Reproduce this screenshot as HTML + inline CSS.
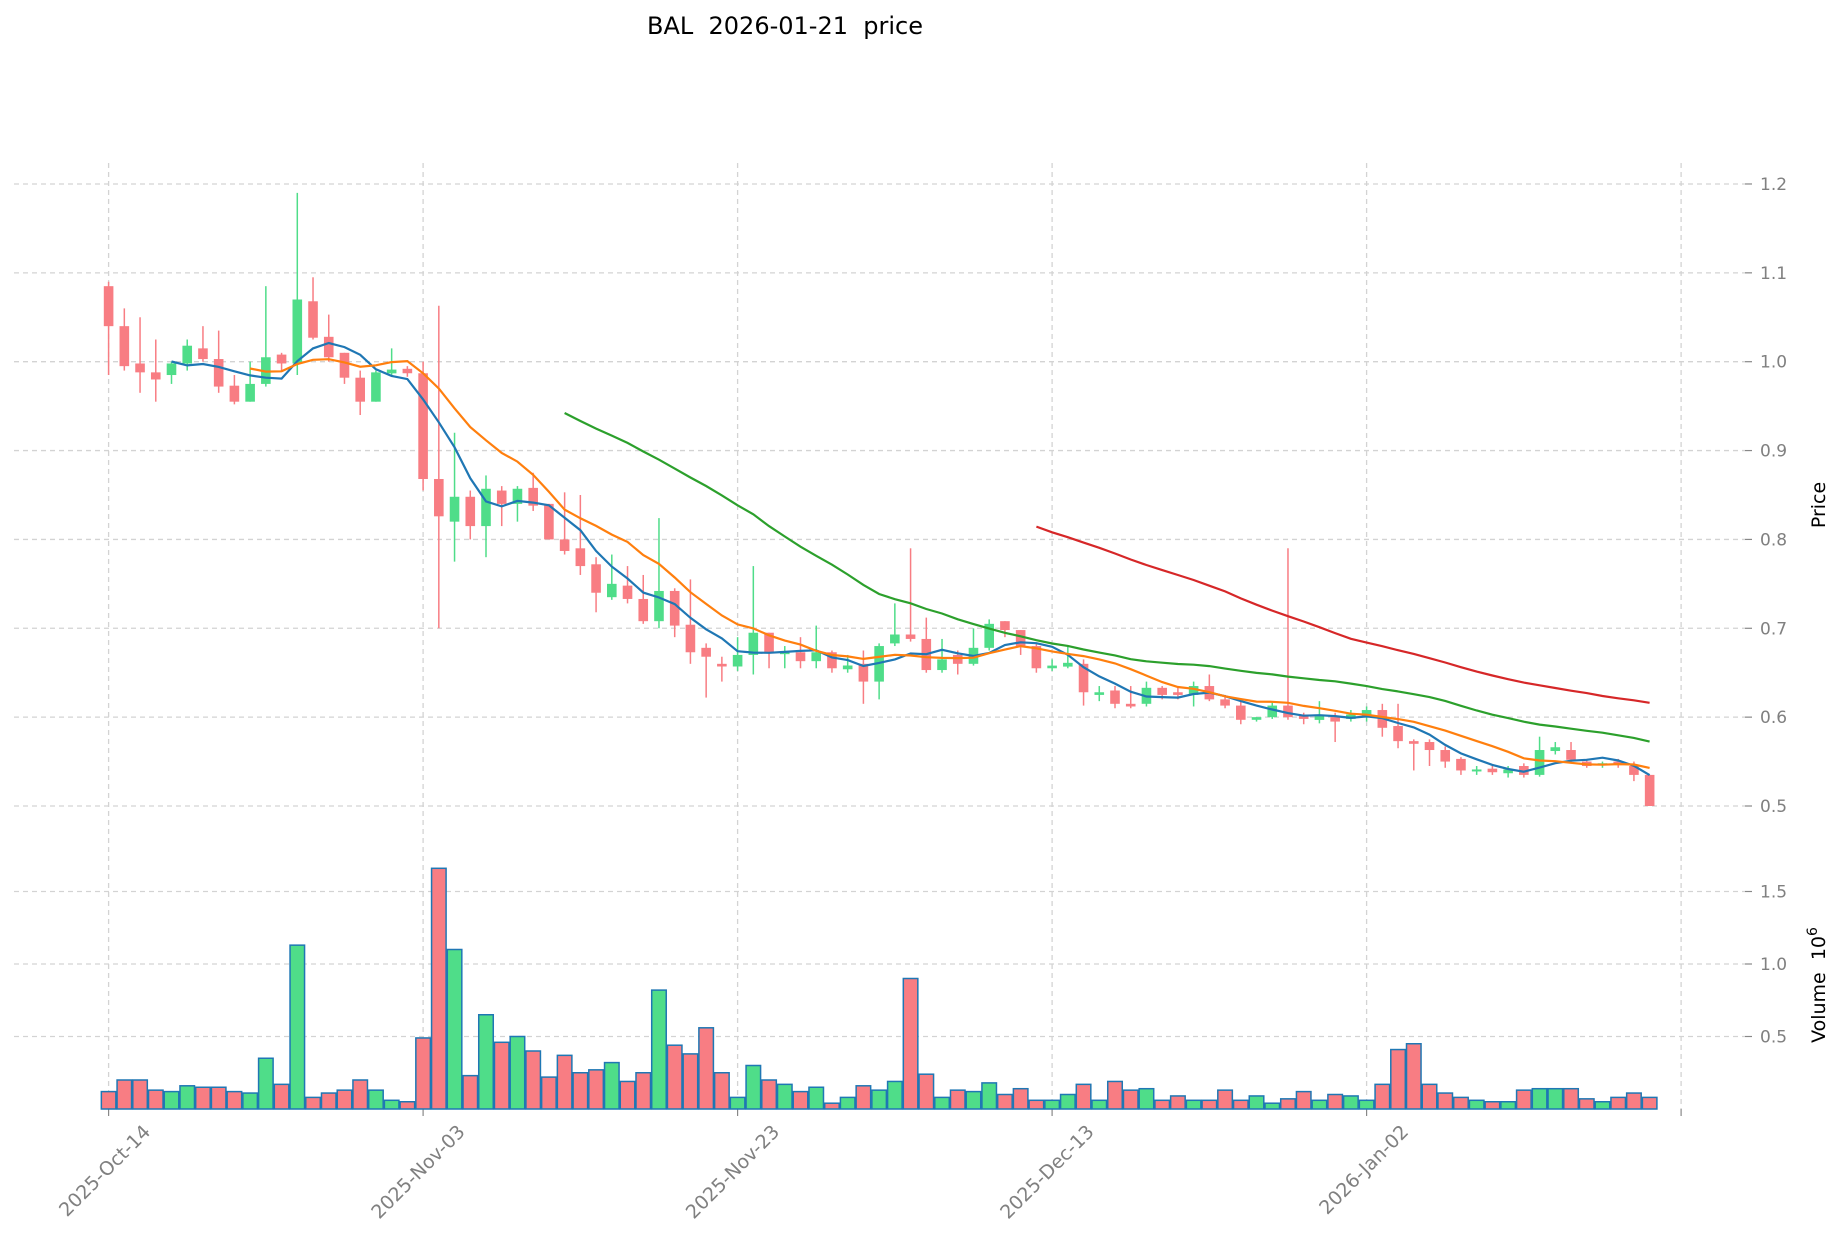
<!DOCTYPE html>
<html><head><meta charset="utf-8"><style>
html,body{margin:0;padding:0;background:#fff;}
svg{display:block;font-family:"DejaVu Sans","Liberation Sans",sans-serif;}
</style></head><body>
<svg id="c" width="1839" height="1246" viewBox="0 0 1839 1246" xmlns="http://www.w3.org/2000/svg">
<text x="785" y="34" font-size="24" text-anchor="middle" fill="#000" style="white-space:pre" xml:space="preserve">BAL  2026-01-21  price</text>
<g id="g"></g>
</svg>
<script>
var C=[[1.085,1.04,1.09,0.985],[1.04,0.995,1.06,0.99],[0.998,0.988,1.05,0.965],[0.988,0.98,1.025,0.955],[0.985,0.998,1.0,0.975],[0.998,1.018,1.025,0.99],[1.015,1.003,1.04,1.0],[1.003,0.972,1.035,0.965],[0.973,0.955,0.985,0.952],[0.955,0.975,1.0,0.955],[0.975,1.005,1.085,0.972],[1.008,0.998,1.01,0.99],[0.998,1.07,1.19,0.985],[1.068,1.027,1.095,1.025],[1.028,1.005,1.053,1.0],[1.01,0.982,1.01,0.975],[0.982,0.955,0.99,0.94],[0.955,0.988,0.99,0.955],[0.988,0.99,1.015,0.985],[0.992,0.987,0.995,0.983],
[0.987,0.868,1.0,0.855],[0.868,0.826,1.063,0.7],[0.82,0.848,0.92,0.775],[0.848,0.815,0.855,0.8],[0.815,0.857,0.872,0.78],[0.855,0.84,0.86,0.815],[0.84,0.857,0.86,0.82],[0.858,0.838,0.875,0.832],[0.84,0.8,0.84,0.8],[0.8,0.787,0.853,0.783],[0.79,0.77,0.85,0.76],[0.772,0.74,0.78,0.718],[0.735,0.75,0.783,0.732],[0.748,0.733,0.77,0.728],[0.733,0.708,0.76,0.705],[0.708,0.742,0.824,0.7],[0.742,0.703,0.745,0.69],[0.704,0.673,0.755,0.66],[0.678,0.668,0.683,0.622],[0.66,0.657,0.668,0.64],
[0.657,0.67,0.69,0.652],[0.67,0.695,0.77,0.648],[0.695,0.672,0.695,0.655],[0.672,0.673,0.68,0.655],[0.673,0.663,0.69,0.655],[0.663,0.673,0.703,0.655],[0.673,0.655,0.675,0.65],[0.655,0.657,0.67,0.65],[0.66,0.64,0.675,0.615],[0.64,0.68,0.683,0.62],[0.683,0.693,0.728,0.68],[0.693,0.688,0.79,0.685],[0.688,0.653,0.712,0.65],[0.653,0.665,0.688,0.65],[0.67,0.66,0.675,0.648],[0.66,0.678,0.7,0.658],[0.678,0.705,0.71,0.675],[0.708,0.698,0.708,0.69],[0.698,0.68,0.698,0.67],[0.68,0.655,0.683,0.65],
[0.655,0.658,0.665,0.652],[0.658,0.66,0.68,0.655],[0.66,0.628,0.665,0.613],[0.625,0.628,0.635,0.618],[0.63,0.615,0.635,0.61],[0.615,0.612,0.635,0.61],[0.615,0.633,0.64,0.612],[0.633,0.625,0.635,0.62],[0.628,0.625,0.635,0.62],[0.625,0.635,0.64,0.612],[0.635,0.62,0.648,0.618],[0.62,0.613,0.625,0.61],[0.613,0.597,0.62,0.592],[0.597,0.6,0.6,0.595],[0.6,0.613,0.618,0.598],[0.613,0.6,0.79,0.597],[0.603,0.598,0.605,0.592],[0.598,0.6,0.618,0.593],[0.6,0.595,0.605,0.572],[0.598,0.603,0.608,0.595],[0.6,0.608,0.612,0.595],
[0.608,0.588,0.615,0.578],[0.59,0.573,0.615,0.565],[0.573,0.57,0.575,0.54],[0.572,0.563,0.575,0.545],[0.563,0.55,0.567,0.543],[0.553,0.54,0.555,0.535],[0.54,0.54,0.545,0.535],[0.542,0.538,0.545,0.535],[0.538,0.54,0.545,0.532],[0.545,0.535,0.548,0.532],[0.535,0.563,0.578,0.533],[0.563,0.565,0.572,0.558],[0.563,0.552,0.572,0.548],[0.55,0.545,0.553,0.543],[0.547,0.547,0.55,0.543],[0.55,0.547,0.553,0.543],[0.545,0.535,0.55,0.528],[0.535,0.5,0.535,0.5]];
var V=[0.12,0.2,0.2,0.13,0.12,0.16,0.15,0.15,0.12,0.11,0.35,0.17,1.13,0.08,0.11,0.13,0.2,0.13,0.06,0.05,
0.49,1.66,1.1,0.23,0.65,0.46,0.5,0.4,0.22,0.37,0.25,0.27,0.32,0.19,0.25,0.82,0.44,0.38,0.56,0.25,
0.08,0.3,0.2,0.17,0.12,0.15,0.04,0.08,0.16,0.13,0.19,0.9,0.24,0.08,0.13,0.12,0.18,0.1,0.14,0.06,
0.06,0.1,0.17,0.06,0.19,0.13,0.14,0.06,0.09,0.06,0.06,0.13,0.06,0.09,0.04,0.07,0.12,0.06,0.1,0.09,0.06,
0.17,0.41,0.45,0.17,0.11,0.08,0.06,0.05,0.05,0.13,0.14,0.14,0.14,0.07,0.05,0.08,0.11,0.08];
var X0=108.6,DX=15.725,VB=1109;
function X(i){return X0+i*DX;}
function Y(p){return 806-(p-0.5)*888.6;}
function YV(v){return VB-v*145;}
var s='';
var GR='#d3d3d3';
[1.2,1.1,1.0,0.9,0.8,0.7,0.6,0.5].forEach(function(p){var y=Y(p);
s+='<line x1="14" x2="1745" y1="'+y+'" y2="'+y+'" stroke="'+GR+'" stroke-width="1.3" stroke-dasharray="5,4"/>';
s+='<line x1="1745" x2="1752" y1="'+y+'" y2="'+y+'" stroke="#888" stroke-width="1.2"/>';
s+='<text x="1760" y="'+(y+6)+'" font-size="17" fill="#808080">'+p.toFixed(1)+'</text>';});
[1.5,1.0,0.5].forEach(function(v){var y=YV(v);
s+='<line x1="14" x2="1745" y1="'+y+'" y2="'+y+'" stroke="'+GR+'" stroke-width="1.3" stroke-dasharray="5,4"/>';
s+='<line x1="1745" x2="1752" y1="'+y+'" y2="'+y+'" stroke="#888" stroke-width="1.2"/>';
s+='<text x="1760" y="'+(y+6)+'" font-size="17" fill="#808080">'+v.toFixed(1)+'</text>';});
var labs=['2025-Oct-14','2025-Nov-03','2025-Nov-23','2025-Dec-13','2026-Jan-02',''];
for(var k=0;k<6;k++){var x=X0+k*20*DX;
s+='<line x1="'+x+'" x2="'+x+'" y1="163" y2="'+VB+'" stroke="'+GR+'" stroke-width="1.3" stroke-dasharray="5,4"/>';
s+='<line x1="'+x+'" x2="'+x+'" y1="'+VB+'" y2="'+(VB+7)+'" stroke="#888" stroke-width="1.2"/>';
if(labs[k])s+='<text transform="translate('+(x+43)+',1133) rotate(-45)" font-size="19" fill="#808080" text-anchor="end">'+labs[k]+'</text>';}
var RED='#f87d83',GRN='#4fdd89';
for(var i=0;i<V.length;i++){var c=C[i],col=c[1]>=c[0]?GRN:RED;var y=YV(V[i]);
s+='<rect x="'+(X(i)-DX/2+0.6)+'" y="'+y+'" width="'+(DX-1.2)+'" height="'+(VB-y)+'" fill="'+col+'" stroke="#1f77b4" stroke-width="1.5"/>';}
for(var i=0;i<C.length;i++){var c=C[i],up=c[1]>=c[0],col=up?GRN:RED,x=X(i);
s+='<line x1="'+x+'" x2="'+x+'" y1="'+Y(c[2])+'" y2="'+Y(c[3])+'" stroke="'+col+'" stroke-width="1.5"/>';
var t=Y(Math.max(c[0],c[1])),b=Y(Math.min(c[0],c[1]));if(b-t<2){t-=1;b+=1;}
s+='<rect x="'+(x-4.8)+'" y="'+t+'" width="9.6" height="'+(b-t)+'" fill="'+col+'"/>';}
function ma(n,color){var pts=[];for(var i=n-1;i<C.length;i++){var sum=0;for(var j=i-n+1;j<=i;j++)sum+=C[j][1];pts.push(X(i).toFixed(1)+','+Y(sum/n).toFixed(1));}
s+='<polyline points="'+pts.join(' ')+'" fill="none" stroke="'+color+'" stroke-width="2.2"/>';}
ma(5,'#1f77b4');ma(10,'#ff7f0e');ma(30,'#2ca02c');ma(60,'#d62728');
s+='<text transform="translate(1825,505) rotate(-90)" font-size="19" text-anchor="middle" fill="#000">Price</text>';
s+='<text transform="translate(1825,985) rotate(-90)" font-size="19" text-anchor="middle" fill="#000" xml:space="preserve">Volume  10<tspan dy="-8" font-size="14">6</tspan></text>';
document.getElementById('g').innerHTML=s;
</script>
</body></html>
